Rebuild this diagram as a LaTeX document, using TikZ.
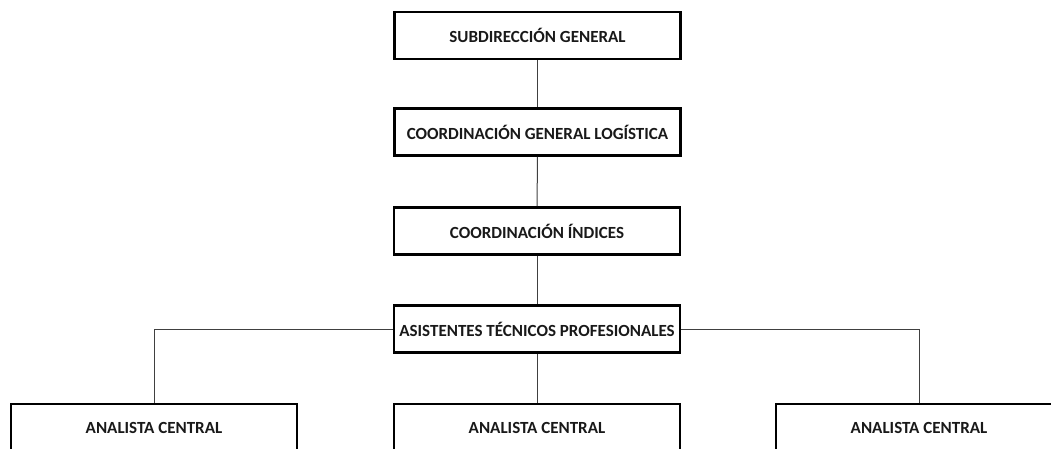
\documentclass[tikz,border=0pt]{standalone}
\usepackage{fontspec}
\setmainfont{Carlito}
\begin{document}
\begin{tikzpicture}[x=1pt,y=-1pt,
  orgbox/.style={draw=black,line width=2.6pt,fill=white,minimum width=286pt,minimum height=47pt,inner sep=0pt,
    font=\fontsize{17}{19}\selectfont\bfseries,text=black!90},
  link/.style={draw=black!75,line width=1pt}]
\useasboundingbox (0,0) rectangle (1051,449);
\clip (0,0) rectangle (1051,449);
\node[orgbox] (b1) at (537.5,35.5) {SUBDIRECCIÓN GENERAL};
\node[orgbox] (b2) at (537.5,132) {COORDINACIÓN GENERAL LOGÍSTICA};
\node[orgbox] (b3) at (537,231) {COORDINACIÓN ÍNDICES};
\node[orgbox] (b4) at (537,329) {ASISTENTES TÉCNICOS PROFESIONALES};
\node[orgbox] (l) at (154,427.5) {ANALISTA CENTRAL};
\node[orgbox] (m) at (537,427.5) {ANALISTA CENTRAL};
\node[orgbox] (r) at (919,427.5) {ANALISTA CENTRAL};
\draw[link] (b1) -- (b2);
\draw[link] (b2) -- (b3);
\draw[link] (b3) -- (b4);
\draw[link] (b4) -- (m);
\draw[link] (b4.west) -| (l.north);
\draw[link] (b4.east) -| (r.north);
\end{tikzpicture}
\end{document}
